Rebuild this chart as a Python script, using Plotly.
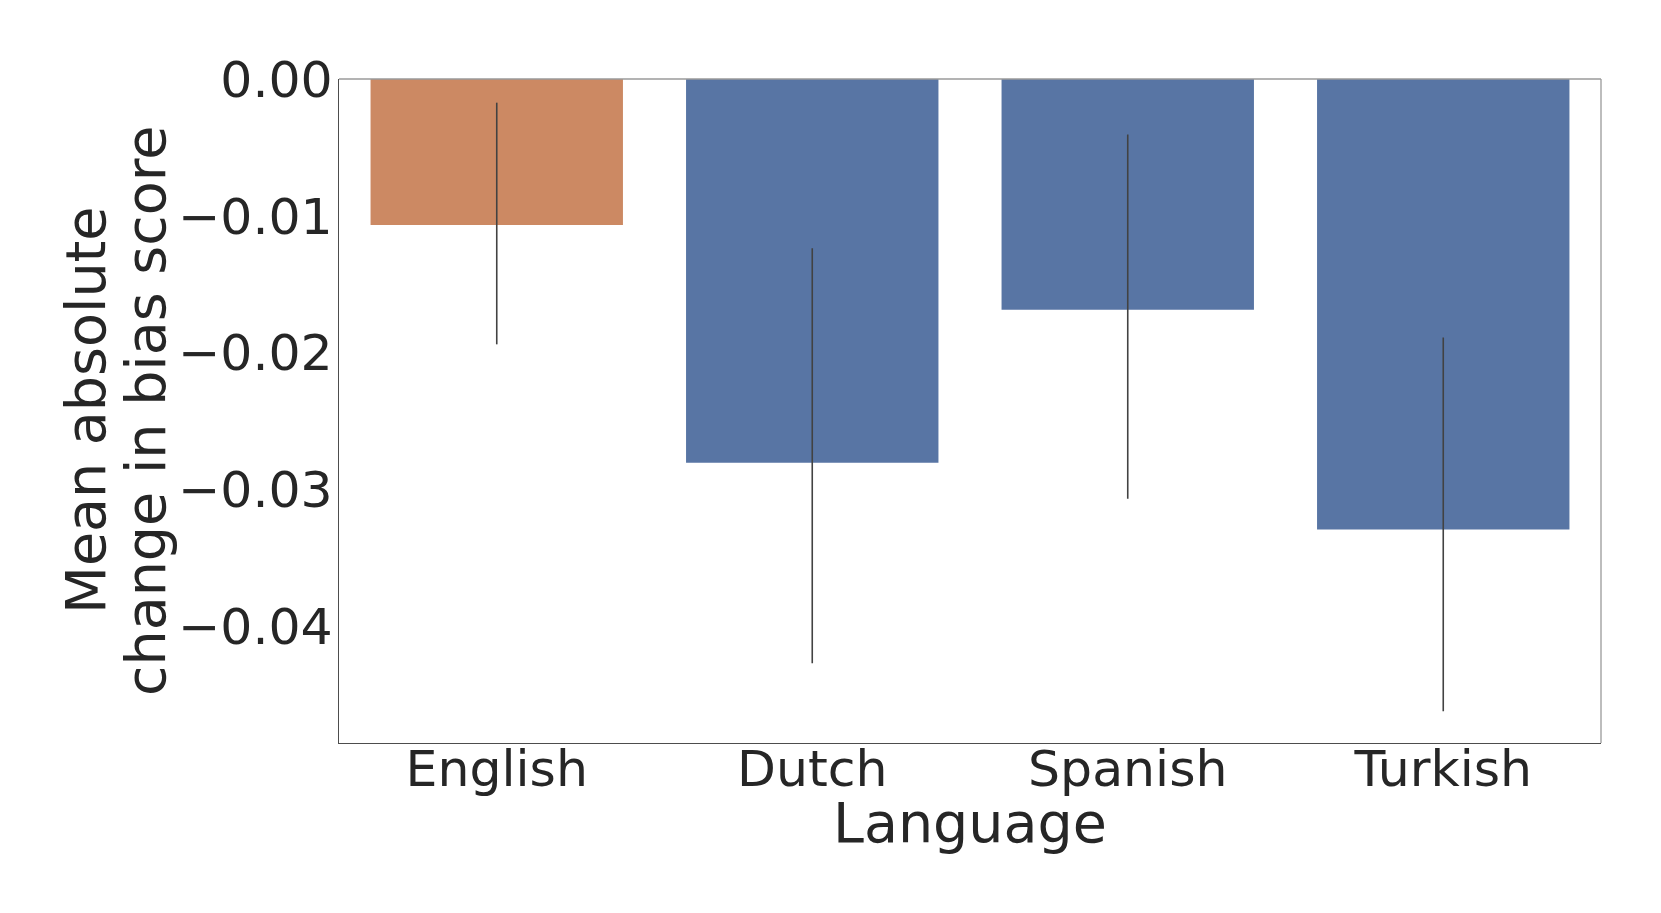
import plotly.graph_objects as go

languages = ["English", "Dutch", "Spanish", "Turkish"]
mean_change = [-0.01067, -0.02803, -0.01686, -0.03291]
ci_upper = [-0.00173, -0.01236, -0.00406, -0.01888]
ci_lower = [-0.01938, -0.04268, -0.03066, -0.04618]
bar_colors = ["#CC8963", "#5875A4", "#5875A4", "#5875A4"]
y_ticks = [0.0, -0.01, -0.02, -0.03, -0.04]

err_plus = [u - m for u, m in zip(ci_upper, mean_change)]
err_minus = [m - l for m, l in zip(mean_change, ci_lower)]

FONT = "DejaVu Sans"
TXT = "#262626"

ML, MR, MT, MB = 331, 68, 71, 178
PH = 913 - MT - MB

fig = go.Figure()
fig.add_trace(go.Bar(
    x=languages, y=mean_change,
    marker=dict(color=bar_colors, line=dict(width=0)),
    width=0.8,
    error_y=dict(type="data", symmetric=False, array=err_plus, arrayminus=err_minus,
                 color="#424242", thickness=1.6, width=0),
))

fig.update_layout(
    width=1661, height=913,
    margin=dict(l=ML, r=MR, t=MT, b=MB),
    paper_bgcolor="white", plot_bgcolor="white",
    showlegend=False,
    font=dict(family=FONT, color=TXT),
    bargap=0.2,
)
fig.update_xaxes(
    range=[-0.5, 3.5],
    showline=True, linecolor="#4d4d4d", linewidth=1.3, mirror=False,
    showgrid=False, ticks="", tickfont=dict(size=50.5, color=TXT, family=FONT),
    ticklabelstandoff=-19,
)
fig.update_yaxes(
    range=[-0.0485, 0],
    tickvals=y_ticks, tickformat=".2f",
    showline=True, linecolor="#4d4d4d", linewidth=1.3,
    showgrid=False, zeroline=False, ticks="",
    ticklabelstandoff=-5,
    tickfont=dict(size=50.5, color=TXT, family=FONT),
)
# light frame top/right
fig.add_shape(type="line", xref="paper", yref="paper", x0=0, x1=1, y0=1, y1=1,
              line=dict(color="#9a9a9a", width=1.3))
fig.add_shape(type="line", xref="paper", yref="paper", x0=1, x1=1, y0=0, y1=1,
              line=dict(color="#9a9a9a", width=1.3))

# x-axis title
fig.add_annotation(text="Language", xref="paper", yref="paper",
                   x=0.5, y=-(814 - (913 - MB)) / PH, xanchor="center", yanchor="middle",
                   showarrow=False, font=dict(size=55.5, color=TXT, family=FONT))

pw = 1661 - ML - MR
for text, xc in [("Mean absolute", 85 - 8), ("change in bias score", 145 - 8)]:
    fig.add_annotation(text=text, xref="paper", yref="paper",
                       x=(xc - ML) / pw, y=0.5, xanchor="center", yanchor="middle",
                       textangle=-90, showarrow=False,
                       font=dict(size=55.5, color=TXT, family=FONT))

fig.write_html("out.html")
